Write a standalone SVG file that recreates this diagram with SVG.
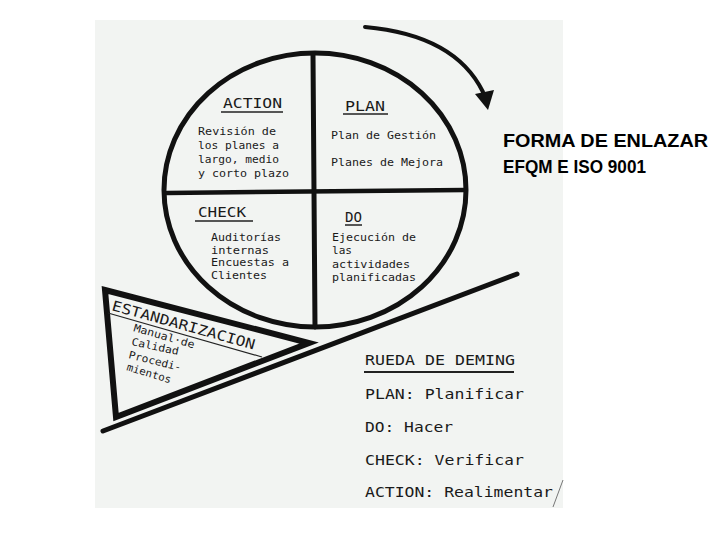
<svg xmlns="http://www.w3.org/2000/svg" width="720" height="540" viewBox="0 0 720 540">
<defs>
<style>
.ln{stroke:#111;fill:none;stroke-linecap:round}
.hd{font-family:"DejaVu Sans Mono","Liberation Mono",monospace;font-size:14px;fill:#1a1a1a}
.bd{font-family:"DejaVu Sans Mono","Liberation Mono",monospace;font-size:10.5px;fill:#1a1a1a}
.lg{font-family:"DejaVu Sans Mono","Liberation Mono",monospace;font-size:14px;fill:#1a1a1a}
.tt{font-family:"Liberation Sans",Arial,sans-serif;font-size:19px;font-weight:bold;fill:#000}
.ul{stroke:#222;stroke-width:1.5}
</style>
</defs>
<rect width="720" height="540" fill="#ffffff"/>
<rect x="95" y="20" width="468" height="488" fill="#f2f4f2"/>

<g id="wheel">
<ellipse cx="315" cy="190" rx="151" ry="137" class="ln" stroke-width="5"/>
<line x1="313" y1="55" x2="315" y2="327" class="ln" stroke-width="5"/>
<line x1="167" y1="193" x2="465" y2="190" class="ln" stroke-width="4.5"/>
</g>

<g id="action">
<text x="223" y="108" class="hd" textLength="59" lengthAdjust="spacingAndGlyphs">ACTION</text>
<line x1="221" y1="112" x2="283" y2="112" class="ul"/>
<text x="198" y="135" class="bd" textLength="78" lengthAdjust="spacingAndGlyphs">Revisión de</text>
<text x="198" y="149" class="bd" textLength="81" lengthAdjust="spacingAndGlyphs">los planes a</text>
<text x="198" y="163" class="bd" textLength="81" lengthAdjust="spacingAndGlyphs">largo, medio</text>
<text x="198" y="177" class="bd" textLength="91" lengthAdjust="spacingAndGlyphs">y corto plazo</text>
</g>

<g id="plan">
<text x="345" y="111" class="hd" textLength="40" lengthAdjust="spacingAndGlyphs">PLAN</text>
<line x1="343" y1="114" x2="388" y2="114" class="ul"/>
<text x="331" y="139" class="bd" textLength="105" lengthAdjust="spacingAndGlyphs">Plan de Gestión</text>
<text x="331" y="166" class="bd" textLength="112" lengthAdjust="spacingAndGlyphs">Planes de Mejora</text>
</g>

<g id="check">
<text x="198" y="217" class="hd" textLength="48" lengthAdjust="spacingAndGlyphs">CHECK</text>
<line x1="195" y1="221" x2="253" y2="221" class="ul"/>
<text x="211" y="241" class="bd" textLength="70" lengthAdjust="spacingAndGlyphs">Auditorías</text>
<text x="211" y="254" class="bd" textLength="58" lengthAdjust="spacingAndGlyphs">internas</text>
<text x="211" y="266" class="bd" textLength="78" lengthAdjust="spacingAndGlyphs">Encuestas a</text>
<text x="211" y="279" class="bd" textLength="56" lengthAdjust="spacingAndGlyphs">Clientes</text>
</g>

<g id="do">
<text x="345" y="222" class="hd" textLength="17" lengthAdjust="spacingAndGlyphs">DO</text>
<line x1="345" y1="225" x2="362" y2="225" class="ul"/>
<text x="332" y="241" class="bd" textLength="84" lengthAdjust="spacingAndGlyphs">Ejecución de</text>
<text x="332" y="254" class="bd" textLength="20" lengthAdjust="spacingAndGlyphs">las</text>
<text x="332" y="268" class="bd" textLength="78" lengthAdjust="spacingAndGlyphs">actividades</text>
<text x="332" y="281" class="bd" textLength="84" lengthAdjust="spacingAndGlyphs">planificadas</text>
</g>

<g id="estandarizacion">
<polygon points="105,290 309,343 116,417" fill="none" stroke="#111" stroke-width="6" stroke-linejoin="miter"/>
<line x1="108" y1="313" x2="262" y2="357" stroke="#222" stroke-width="1.2"/>
<text transform="translate(111,310) rotate(15.5)" class="hd" font-size="16.5" textLength="148" lengthAdjust="spacingAndGlyphs">ESTANDARIZACION</text>
<text transform="translate(133,331) rotate(16)" class="bd" font-size="10" textLength="63" lengthAdjust="spacingAndGlyphs">Manual·de</text>
<text transform="translate(131,345) rotate(12)" class="bd" font-size="10" textLength="48" lengthAdjust="spacingAndGlyphs">Calidad</text>
<text transform="translate(128,358) rotate(14)" class="bd" font-size="10" textLength="54" lengthAdjust="spacingAndGlyphs">Procedi-</text>
<text transform="translate(126,370) rotate(17)" class="bd" font-size="10" textLength="46" lengthAdjust="spacingAndGlyphs">mientos</text>
</g>

<g id="connectors">
<line x1="103" y1="431" x2="517" y2="274" class="ln" stroke-width="5"/>
<path d="M365,27 Q455,35 483,92" class="ln" stroke-width="4"/>
<polygon points="475,94 494,90 488,110" fill="#111"/>
<line x1="553" y1="507" x2="563" y2="480" stroke="#777" stroke-width="1"/>
</g>

<g id="legend">
<text x="365" y="365" class="lg" textLength="150" lengthAdjust="spacingAndGlyphs">RUEDA DE DEMING</text>
<line x1="364" y1="372" x2="514" y2="372" stroke="#222" stroke-width="2"/>
<text x="365" y="399" class="lg" textLength="159" lengthAdjust="spacingAndGlyphs">PLAN: Planificar</text>
<text x="365" y="432" class="lg" textLength="88" lengthAdjust="spacingAndGlyphs">DO: Hacer</text>
<text x="365" y="465" class="lg" textLength="159" lengthAdjust="spacingAndGlyphs">CHECK: Verificar</text>
<text x="365" y="497" class="lg" textLength="188" lengthAdjust="spacingAndGlyphs">ACTION: Realimentar</text>
</g>

<g id="title">
<text x="503" y="147" class="tt" textLength="205" lengthAdjust="spacingAndGlyphs">FORMA DE ENLAZAR</text>
<text x="503" y="173" class="tt" textLength="143" lengthAdjust="spacingAndGlyphs">EFQM E ISO 9001</text>
</g>
</svg>
